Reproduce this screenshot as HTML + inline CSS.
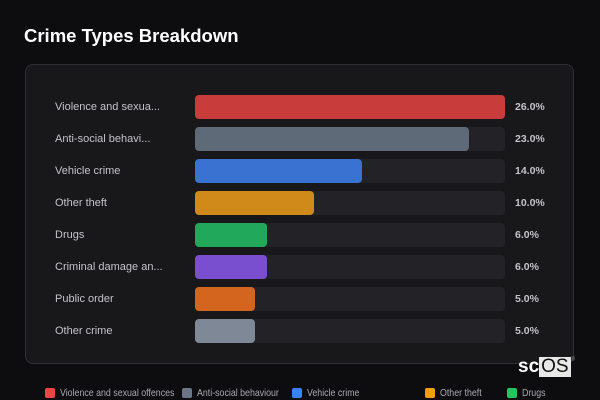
<!DOCTYPE html>
<html><head><meta charset="utf-8"><style>
body{margin:0;width:600px;height:400px;background:#0d0d10;font-family:"Liberation Sans",sans-serif;overflow:hidden;position:relative}
.title{position:absolute;left:24px;top:25px;color:#fff;font-size:18.5px;font-weight:bold}
.panel{position:absolute;left:25px;top:64px;width:549px;height:300px;background:#18181b;border:1px solid #2f2f34;border-radius:8px;box-sizing:border-box}
.lbl{position:absolute;left:55px;font-size:11px;color:#c4c4c8}
.track{position:absolute;left:195px;width:310px;height:24px;background:#232327;border-radius:4px}
.bar{position:absolute;left:0;top:0;height:24px;border-radius:4px}
.val{position:absolute;left:515px;font-size:10.5px;font-weight:bold;color:#c4c4c8}
.leg{position:absolute;top:387px;font-size:10.5px;color:#a8a8b0;white-space:nowrap;transform:scaleX(0.84);transform-origin:left}
.sw{position:absolute;top:388px;width:10px;height:10px;border-radius:2px}
</style></head><body>
<div class="title">Crime Types Breakdown</div>
<div class="panel"></div>
<div id="rows"></div>
<div style="position:absolute;left:518px;top:357px;height:20px">
<span style="color:#fff;font-weight:bold;font-size:19px;line-height:20px;vertical-align:top">sc</span><span style="background:#e8e8e8;color:#111;font-size:19px;line-height:20px;display:inline-block;padding:0 2px;vertical-align:top">OS</span><span style="color:#888;font-size:6px;vertical-align:top">®</span></div>
<script>
const categories=["Violence and sexua...","Anti-social behavi...","Vehicle crime","Other theft","Drugs","Criminal damage an...","Public order","Other crime"];
const values=[26,23,14,10,6,6,5,5];
const colors=["#c83c3c","#5f6a79","#3a72d1","#cf8a1a","#22a85a","#7a4fcf","#d4651e","#7e8897"];
const legendNames=["Violence and sexual offences","Anti-social behaviour","Vehicle crime","Other theft","Drugs"];
const legendColors=["#ef4444","#6b7689","#3b82f6","#f59e0b","#22c55e"];
const legendX=[45,182,292,425,507];
const maxV=Math.max(...values);
const x=v=>v/maxV*310;
const root=document.getElementById('rows');
categories.forEach((c,i)=>{
  const top=95+i*32;
  const l=document.createElement('div');l.className='lbl';l.style.top=(top+6)+'px';l.textContent=c;
  
  
  root.appendChild(l);
  const t=document.createElement('div');t.className='track';t.style.top=top+'px';
  
  
  const b=document.createElement('div');b.className='bar';b.style.width=x(values[i])+'px';b.style.background=colors[i];
  
  
  t.appendChild(b);root.appendChild(t);
  const v=document.createElement('div');v.className='val';v.style.top=(top+6)+'px';v.textContent=values[i].toFixed(1)+'%';
  
  
  root.appendChild(v);
});
legendNames.forEach((n,i)=>{
  const s=document.createElement('div');s.className='sw';s.style.left=legendX[i]+'px';s.style.background=legendColors[i];
  
  
  root.appendChild(s);
  const t=document.createElement('div');t.className='leg';t.style.left=(legendX[i]+15)+'px';t.textContent=n;
  
  
  root.appendChild(t);
});
</script>
</body></html>
